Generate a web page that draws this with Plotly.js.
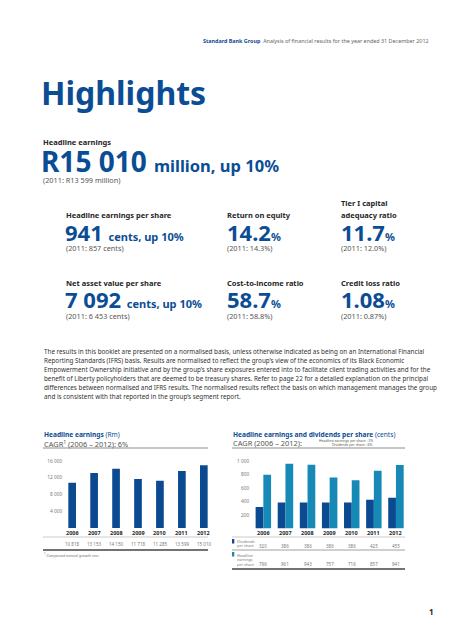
<!DOCTYPE html>
<html><head><meta charset="utf-8">
<script src="https://cdn.plot.ly/plotly-3.0.1.min.js"></script>
<style>html,body{margin:0;padding:0;background:#fff}</style>
</head><body><div id="chart" style="width:453px;height:640px"></div>
<script>
// ---- data ----
const years = ['2006','2007','2008','2009','2010','2011','2012'];
const headlineEarnings = [10818, 13153, 14150, 11718, 11285, 13599, 15010];
const dividendsPerShare = [320, 386, 386, 386, 386, 425, 455];
const headlineEpsCents = [796, 961, 943, 757, 716, 857, 941];
const heTickVals = [4000, 8000, 12000, 16000];
const heTickText = ['4 000', '8 000', '12 000', '16 000'];
const epsTickVals = [200, 400, 600, 800, 1000];
const epsTickText = ['200', '400', '600', '800', '1 000'];

// ---- styling ----
const W = 453, H = 640;
const F = 'Noto Sans, Open Sans, sans-serif';
const BLUE = '#0b4d95', DARKBAR = '#0b4a91', LIGHTBAR = '#1789b6';
const DARK = '#262626', GREY = '#555555', LGREY = '#777777';

function fmt(n){ return String(n).replace(/\B(?=(\d{3})+(?!\d))/g, ' '); }
function A(x, y, text, size, color, extra){
  return Object.assign({xref:'paper', yref:'paper', x:x/W, y:1-y/H, xanchor:'left', yanchor:'middle',
    showarrow:false, text:text, borderpad:0, font:{family:F, size:size, color:color}}, extra||{});
}
function L(x0, x1, y, color, w){
  return {type:'line', xref:'paper', yref:'paper', x0:x0/W, x1:x1/W, y0:1-y/H, y1:1-y/H, line:{color:color, width:w}};
}
function R(x0, x1, y0, y1, color){
  return {type:'rect', xref:'paper', yref:'paper', x0:x0/W, x1:x1/W, y0:1-y1/H, y1:1-y0/H, line:{width:0}, fillcolor:color};
}

const ann = [
  A(202, 41, "<b>Standard Bank Group</b>  <span style='color:#666666'>Analysis of financial results for the year ended 31 December 2012</span>", 5.4, BLUE),
  A(40, 93, "<b>Highlights</b>", 32, BLUE),
  A(42, 142, "<b>Headline earnings</b>", 7.5, DARK),
  A(40, 161, "<b>R15 010 <span style='font-size:16.5px'>million, up 10%</span></b>", 28, BLUE),
  A(42, 180, "(2011: R13 599 million)", 7.3, GREY),

  A(65, 215, "<b>Headline earnings per share</b>", 7.5, DARK),
  A(64, 232, "<b>941 <span style='font-size:11px'>cents, up 10%</span></b>", 22, BLUE),
  A(65, 248, "(2011: 857 cents)", 7.3, GREY),
  A(226, 215, "<b>Return on equity</b>", 7.5, DARK),
  A(226, 232, "<b>14.2<span style='font-size:11px'>%</span></b>", 22, BLUE),
  A(226, 248, "(2011: 14.3%)", 7.3, GREY),
  A(340, 203, "<b>Tier I capital</b>", 7.5, DARK),
  A(340, 215, "<b>adequacy ratio</b>", 7.5, DARK),
  A(340, 232, "<b>11.7<span style='font-size:11px'>%</span></b>", 22, BLUE),
  A(340, 248, "(2011: 12.0%)", 7.3, GREY),

  A(65, 283, "<b>Net asset value per share</b>", 7.5, DARK),
  A(64, 299, "<b>7 092 <span style='font-size:11px'>cents, up 10%</span></b>", 22, BLUE),
  A(65, 316, "(2011: 6 453 cents)", 7.3, GREY),
  A(226, 283, "<b>Cost-to-income ratio</b>", 7.5, DARK),
  A(226, 299, "<b>58.7<span style='font-size:11px'>%</span></b>", 22, BLUE),
  A(226, 316, "(2011: 58.8%)", 7.3, GREY),
  A(340, 283, "<b>Credit loss ratio</b>", 7.5, DARK),
  A(340, 299, "<b>1.08<span style='font-size:11px'>%</span></b>", 22, BLUE),
  A(340, 316, "(2011: 0.87%)", 7.3, GREY),
];

const para = [
  "The results in this booklet are presented on a normalised basis, unless otherwise indicated as being on an International Financial",
  "Reporting Standards (IFRS) basis. Results are normalised to reflect the group’s view of the economics of its Black Economic",
  "Empowerment Ownership initiative and by the group’s share exposures entered into to facilitate client trading activities and for the",
  "benefit of Liberty policyholders that are deemed to be treasury shares. Refer to page 22 for a detailed explanation on the principal",
  "differences between normalised and IFRS results. The normalised results reflect the basis on which management manages the group",
  "and is consistent with that reported in the group’s segment report."
];
para.forEach((t, i) => ann.push(A(43, 351 + i*9, t, 6.3, '#333333')));

// chart titles
ann.push(A(43, 434, "<b>Headline earnings</b> (Rm)", 6.6, BLUE));
ann.push(A(43, 443, "CAGR<sup>1</sup> (2006 – 2012): 6%", 7.4, GREY));
ann.push(A(232, 434, "<b>Headline earnings and dividends per share</b> (cents)", 6.6, BLUE));
ann.push(A(232, 443, "CAGR (2006 – 2012):", 7.4, GREY));
ann.push(A(374, 440, "Headline earnings per share : 3%", 3.5, GREY, {xanchor:'right'}));
ann.push(A(374, 444.5, "Dividends per share : 6%", 3.5, GREY, {xanchor:'right'}));

// tables (categories positioned through the category axes by index)
years.forEach((yr, i) => {
  ann.push({xref:'x', yref:'paper', x:i, y:1-533/H, xanchor:'center', yanchor:'middle', showarrow:false,
    text:'<b>'+yr+'</b>', font:{family:F, size:5.5, color:DARK}});
  ann.push({xref:'x', yref:'paper', x:i, y:1-544/H, xanchor:'center', yanchor:'middle', showarrow:false,
    text:fmt(headlineEarnings[i]), font:{family:F, size:4.5, color:LGREY}});
  ann.push({xref:'x2', yref:'paper', x:i, y:1-533/H, xanchor:'center', yanchor:'middle', showarrow:false,
    text:'<b>'+yr+'</b>', font:{family:F, size:5.5, color:DARK}});
  ann.push({xref:'x2', yref:'paper', x:i, y:1-545.5/H, xanchor:'center', yanchor:'middle', showarrow:false,
    text:fmt(dividendsPerShare[i]), font:{family:F, size:4.5, color:LGREY}});
  ann.push({xref:'x2', yref:'paper', x:i, y:1-564/H, xanchor:'center', yanchor:'middle', showarrow:false,
    text:fmt(headlineEpsCents[i]), font:{family:F, size:4.5, color:LGREY}});
});
ann.push(A(235.5, 541, "Dividends", 3.8, LGREY));
ann.push(A(235.5, 545.5, "per share", 3.8, LGREY));
ann.push(A(235.5, 555, "Headline", 3.8, LGREY));
ann.push(A(235.5, 559.5, "earnings", 3.8, LGREY));
ann.push(A(235.5, 564, "per share", 3.8, LGREY));
ann.push(A(43, 555, "<i><sup>1</sup> Compound annual growth rate.</i>", 3.8, LGREY));
ann.push(A(428, 611, "<b>1</b>", 8, DARK));

const shapes = [
  L(43, 208, 448, '#8c8c8c', 1), L(232, 405, 448, '#8c8c8c', 1),
  L(43, 208, 537, '#aaaaaa', 0.6), L(232, 405, 537, '#aaaaaa', 0.6),
  L(43, 208, 550, '#444444', 1.3), L(232, 405, 550, '#888888', 0.8),
  L(232, 405, 569, '#444444', 1.3),
  R(232, 234.3, 539, 543.5, DARKBAR), R(232, 234.3, 552, 556.5, LIGHTBAR)
];

const traces = [
  {type:'bar', x:years, y:headlineEarnings, xaxis:'x', yaxis:'y', width:0.35,
   marker:{color:DARKBAR}, hoverinfo:'skip', name:'Headline earnings'},
  {type:'bar', x:years, y:dividendsPerShare, xaxis:'x2', yaxis:'y2',
   marker:{color:DARKBAR}, hoverinfo:'skip', name:'Dividends per share'},
  {type:'bar', x:years, y:headlineEpsCents, xaxis:'x2', yaxis:'y2',
   marker:{color:LIGHTBAR}, hoverinfo:'skip', name:'Headline earnings per share'}
];

const axBase = {showgrid:false, zeroline:false, showline:false, ticks:''};
const layout = {
  width:W, height:H, margin:{l:0, r:0, t:0, b:0}, paper_bgcolor:'#fff', plot_bgcolor:'rgba(0,0,0,0)',
  showlegend:false, barmode:'group', bargap:0.3, bargroupgap:0,
  font:{family:F},
  xaxis:Object.assign({}, axBase, {domain:[61.2/W, 214.8/W], anchor:'y', type:'category', autorange:false,
    range:[-0.5, 6.5], showticklabels:false}),
  yaxis:Object.assign({}, axBase, {domain:[112/H, 179/H], anchor:'x', range:[0,16000], tickvals:heTickVals,
    ticktext:heTickText, tickfont:{family:F, size:4.8, color:LGREY}, ticklabelstandoff:-2}),
  xaxis2:Object.assign({}, axBase, {domain:[252.3/W, 407/W], anchor:'y2', type:'category', autorange:false,
    range:[-0.5, 6.5], showticklabels:false}),
  yaxis2:Object.assign({}, axBase, {domain:[111.5/H, 179/H], anchor:'x2', range:[0,1000], tickvals:epsTickVals,
    ticktext:epsTickText, tickfont:{family:F, size:4.8, color:LGREY}, ticklabelstandoff:2}),
  annotations:ann, shapes:shapes
};
Plotly.newPlot('chart', traces, layout, {staticPlot:true, displayModeBar:false});
</script></body></html>
